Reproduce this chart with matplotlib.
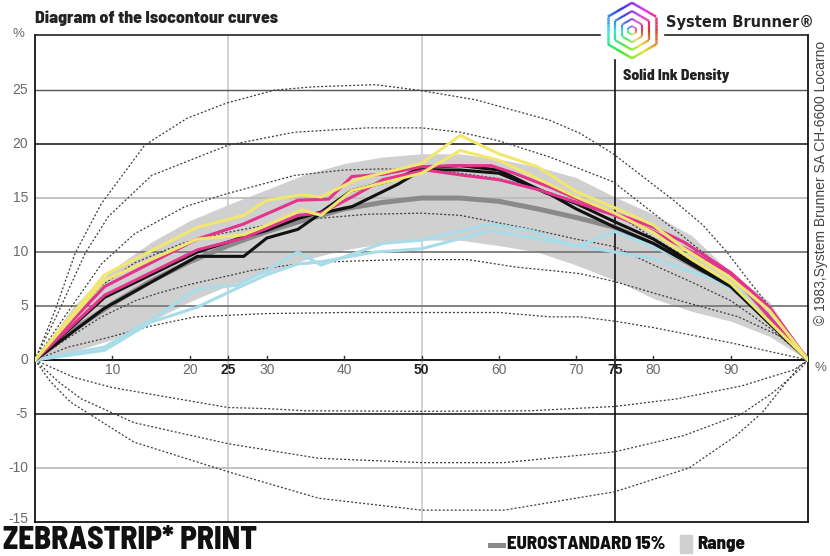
import colorsys
import numpy as np
import matplotlib
matplotlib.use("Agg")
import matplotlib.pyplot as plt
from matplotlib.collections import LineCollection
from matplotlib.patches import Rectangle

# ---- values ----
tone = [0, 5, 10, 15, 20, 25, 30, 35, 40, 45, 50, 55, 60, 65, 70, 75, 80, 85, 90, 95, 100]
euro_15 = [0, 2.8, 5.2, 7.3, 9.1, 10.6, 11.9, 13.0, 14.0, 14.6, 15.0, 15.0, 14.7, 14.0, 13.2, 12.3, 10.7, 8.8, 6.8, 4.1, 0]
range_low = [0, 0.8, 1.9, 3.6, 5.4, 6.9, 8.1, 9.3, 10.2, 10.8, 11.1, 11.1, 10.6, 10.0, 8.8, 7.4, 5.7, 4.5, 3.6, 2.2, 0]
range_high = [0, 5.0, 8.4, 10.9, 12.9, 14.4, 15.8, 17.2, 18.2, 18.8, 19.1, 19.1, 18.6, 17.9, 16.9, 15.1, 13.5, 11.5, 8.1, 5.4, 0]

# isocontour curves (dotted)
iso_a_x = [0, 2.6, 5.2, 8.6, 14.2, 19.7, 24.8, 31, 36, 44, 49.5, 57, 66.6, 70.5, 74.8, 82.6, 86.4, 89.5, 92.5, 95, 97, 100]
iso_a_y = [0, 4.6, 9.9, 14.5, 19.9, 22.4, 23.8, 25.0, 25.3, 25.5, 25.0, 24.1, 22.2, 21.0, 19.1, 14.8, 12.5, 10.0, 7.2, 5.0, 3.0, 0]
iso_b_x = [0, 3, 6.5, 9.5, 15.1, 25, 33.6, 43, 50, 55, 60, 66.6, 70.5, 74.8, 83.4, 90.8, 96.4, 100]
iso_b_y = [0, 4.4, 9.9, 13.3, 17.1, 19.9, 21.1, 21.5, 21.5, 21.1, 20.3, 18.8, 17.7, 16.5, 11.7, 7.4, 3.4, 0]
iso_c_x = [0, 4.3, 8.6, 12.9, 19.4, 24.8, 33.6, 40, 45, 50, 55, 60, 65, 70, 75, 80, 85, 90, 95, 100]
iso_c_y = [0, 4.5, 8.9, 11.7, 14.2, 15.4, 17.1, 17.6, 17.7, 17.6, 17.3, 16.8, 15.9, 14.7, 13.6, 11.3, 9.2, 7.0, 3.8, 0]
iso_d_x = [0, 4.3, 8.6, 12.9, 19, 24, 30, 36.4, 43, 50, 55, 60, 65, 70, 75, 80, 85, 90, 95, 100]
iso_d_y = [0, 3.5, 6.9, 9.0, 10.8, 11.7, 12.5, 13.1, 13.5, 13.6, 13.4, 12.7, 12.0, 11.2, 10.5, 8.8, 7.2, 5.5, 3.0, 0]
iso_e_x = [0, 4, 8.6, 13, 16, 20, 25, 28, 33, 38.6, 47, 56, 62.3, 66.6, 70.5, 74.8, 83.4, 91, 96.4, 100]
iso_e_y = [0, 1.9, 4.0, 5.5, 6.2, 7.0, 7.8, 8.3, 8.8, 9.1, 9.3, 9.3, 8.6, 8.3, 8.0, 7.3, 5.5, 4.0, 2.2, 0]
iso_f_x = [0, 4.3, 9, 14.7, 20.7, 29.8, 40, 50, 60, 66.6, 70.5, 75, 80, 85, 90, 95, 100]
iso_f_y = [0, 1.2, 2.0, 3.1, 4.0, 4.3, 4.4, 4.4, 4.4, 4.0, 4.0, 3.6, 3.0, 2.3, 1.6, 0.8, 0]
iso_g_x = [0, 5, 10, 25, 30, 35, 50, 64, 75, 83, 91.4, 98.2, 100]
iso_g_y = [0, -1.6, -2.55, -4.4, -4.5, -4.7, -4.75, -4.7, -4.3, -3.6, -2.4, -0.9, 0]
iso_h_x = [0, 3, 6, 12.8, 25, 36.7, 50, 60.7, 75, 83.9, 91.4, 95.5, 98.9, 100]
iso_h_y = [0, -2.0, -3.6, -5.8, -7.75, -9.1, -9.5, -9.5, -8.5, -7.0, -5.0, -3.0, -0.9, 0]
iso_i_x = [0, 2, 4.6, 12.8, 25, 36.7, 50, 60.7, 75, 84.6, 90.7, 94.1, 96.8, 98.9, 100]
iso_i_y = [0, -2.0, -3.9, -7.6, -10.35, -12.8, -13.9, -13.9, -12.2, -10.0, -7.0, -4.85, -2.4, -0.6, 0]

# measured print (two runs per colour)
yellow_a_x = [0, 9, 21, 27, 30, 34.5, 37, 41.5, 50, 55, 60, 65, 70, 75, 80, 84, 90, 95, 100]
yellow_a_y = [0, 7.9, 12.3, 13.4, 14.8, 15.3, 15.1, 16.7, 18.2, 20.8, 19.1, 17.9, 15.6, 14.1, 12.5, 10.3, 7.6, 4.6, 0]
yellow_b_x = [0, 9, 21, 27, 30, 34.5, 37, 41, 50, 55, 60, 70, 75, 80, 85, 90, 100]
yellow_b_y = [0, 7.4, 11.2, 11.6, 12.5, 13.9, 13.4, 15.7, 17.3, 19.4, 18.5, 15.1, 13.6, 11.8, 9.3, 7.1, 0]
magenta_a_x = [0, 9, 21, 27, 34, 38, 41, 45, 50, 54, 59, 62, 67, 70.5, 75, 80, 84, 90, 95, 100]
magenta_a_y = [0, 6.8, 11.2, 12.6, 14.8, 14.9, 17.0, 17.2, 17.9, 18.0, 18.0, 17.3, 15.9, 14.8, 13.6, 12.3, 10.9, 8.1, 4.9, 0]
magenta_b_x = [0, 9, 21, 27, 34, 37, 41, 45, 50.5, 55.5, 60, 65, 70, 75, 80, 85, 90, 100]
magenta_b_y = [0, 6.0, 10.2, 11.3, 13.4, 13.6, 15.1, 16.7, 17.6, 17.1, 16.7, 15.8, 14.6, 13.4, 11.9, 10.0, 8.0, 0]
black_a_x = [0, 9, 21, 27, 30, 34, 37, 41, 46, 50, 55, 60, 66, 70, 75, 80, 85, 90, 100]
black_a_y = [0, 5.8, 10.0, 11.4, 12.0, 13.1, 13.7, 15.7, 16.6, 17.8, 18.0, 17.6, 15.5, 14.5, 12.8, 11.2, 9.0, 7.0, 0]
black_b_x = [0, 9, 21, 27, 30, 34, 37, 41, 47, 50, 55, 60, 66.5, 70, 75, 80, 85, 90, 100]
black_b_y = [0, 4.8, 9.6, 9.6, 11.3, 12.1, 13.6, 14.2, 16.3, 17.6, 17.6, 17.3, 15.4, 14.0, 12.3, 10.8, 8.8, 6.8, 0]
cyan_a_x = [0, 9, 15, 21, 26, 30, 34, 37, 45, 50, 59, 64, 70, 75, 80, 86, 90, 95, 100]
cyan_a_y = [0, 1.2, 3.7, 6.6, 6.9, 8.3, 10.0, 8.8, 10.8, 11.1, 12.6, 12.0, 10.5, 11.9, 10.5, 8.5, 7.0, 4.5, 0]
cyan_b_x = [0, 9, 15, 21, 26, 30, 34, 37, 44, 50, 59, 66, 75, 80, 87, 92, 96, 100]
cyan_b_y = [0, 0.9, 3.5, 4.9, 6.6, 7.9, 8.9, 9.1, 10.0, 10.3, 12.0, 11.1, 10.0, 9.4, 7.7, 5.9, 3.4, 0]

y_ticks = [25, 20, 15, 10, 5, 0, -5, -10, -15]
x_ticks = [10, 20, 25, 30, 40, 50, 60, 70, 75, 80, 90]

COND = ['Barlow Semi Condensed', 'DejaVu Sans']
LIGHT = ['Liberation Sans', 'DejaVu Sans']

W, H = 830, 556
fig = plt.figure(figsize=(W / 100, H / 100), dpi=100)
ax = fig.add_axes([35 / W, 34 / H, 773 / W, 487 / H])
ax.set_xlim(0, 100)
ax.set_ylim(-15, 30.1)
ax.set_xticks([])
ax.set_yticks([])
for s in ['left', 'right', 'bottom']:
    ax.spines[s].set_linewidth(1.2)
ax.spines['top'].set_visible(False)
# top border, broken by the logo
ax.plot([0, 73.1], [30.1, 30.1], color='#222', lw=1.2, clip_on=False, zorder=5)
ax.plot([81.5, 100], [30.1, 30.1], color='#222', lw=1.2, clip_on=False, zorder=5)

# light verticals under the range band
ax.plot([25, 25], [-15, 30.1], color='#cfcfcf', lw=1.3, zorder=0.5)
ax.plot([50, 50], [-15, 30.1], color='#cfcfcf', lw=1.3, zorder=0.5)

ax.fill_between(tone, range_low, range_high, color='#d0d0d0', lw=0, zorder=1)

hl = {25: ('#555555', 1.0), 20: ('#111111', 1.1), 15: ('#bdbdbd', 1.3), 10: ('#7a7a7a', 1.3),
      5: ('#7a7a7a', 1.3), 0: ('#111111', 1.4), -5: ('#111111', 1.1), -10: ('#bdbdbd', 1.3)}
for yv, (c, w) in hl.items():
    ax.axhline(yv, color=c, lw=w, zorder=1.5)
ax.plot([75, 75], [-15, 27.8], color='#111111', lw=1.2, zorder=1.5)
for t in x_ticks:
    ax.plot([t, t], [0, 0.35], color='#333', lw=1.0, zorder=1.6)

iso = [(iso_a_x, iso_a_y), (iso_b_x, iso_b_y), (iso_c_x, iso_c_y), (iso_d_x, iso_d_y),
       (iso_e_x, iso_e_y), (iso_f_x, iso_f_y), (iso_g_x, iso_g_y), (iso_h_x, iso_h_y),
       (iso_i_x, iso_i_y)]
for xs, ys in iso:
    ax.plot(xs, ys, color='#3c3c3c', lw=0.9, ls=(0, (1.6, 1.6)), zorder=2)

ax.plot(tone, euro_15, color='#8a8a8a', lw=3.6, zorder=3, solid_capstyle='butt')

series = [(cyan_a_x, cyan_a_y, '#a8dce9'), (cyan_b_x, cyan_b_y, '#a8dce9'),
          (black_a_x, black_a_y, '#111111'), (black_b_x, black_b_y, '#111111'),
          (magenta_a_x, magenta_a_y, '#e2348c'), (magenta_b_x, magenta_b_y, '#e2348c'),
          (yellow_a_x, yellow_a_y, '#f1e76e'), (yellow_b_x, yellow_b_y, '#f1e76e')]
for xs, ys, c in series:
    ax.plot(xs, ys, color=c, lw=2.2, zorder=4, solid_joinstyle='miter')

# axis labels
for t in y_ticks:
    ax.text(-0.9, t + (0.3 if t == -15 else 0), str(t), ha='right', va='center', fontsize=10,
            color='#6a6a6a', family=LIGHT, clip_on=False)
ax.text(-2.2, 30.2, '%', ha='center', va='center', fontsize=9.5, color='#6a6a6a',
        family=LIGHT, clip_on=False)
for t in x_ticks:
    bold = t in (25, 50, 75)
    ax.text(t, -0.95, str(t), ha='center', va='center', fontsize=10,
            color='#222' if bold else '#6a6a6a', family=LIGHT,
            fontweight='bold' if bold else 'normal')
ax.text(100.9, -0.75, '%', ha='left', va='center', fontsize=9.5, color='#6a6a6a',
        family=LIGHT, clip_on=False)
ax.text(76.1, 26.3, 'Solid Ink Density', ha='left', va='center', fontsize=11.3,
        fontweight=800, color='#222', family=COND)

# header / footer text
fig.text(35 / W, 1 - 18 / H, 'Diagram of the Isocontour curves', ha='left', va='center',
         fontsize=12.8, fontweight=800, color='#222', family=COND)
fig.text(666 / W, 1 - 22 / H, 'System Brunner®', ha='left', va='center', fontsize=10.5,
         fontweight='bold', color='#222', family=['DejaVu Sans'])
fig.text(821 / W, 1 - 183 / H, '© 1983,System Brunner SA CH-6600 Locarno', ha='center',
         va='center', rotation=90, fontsize=10, color='#444', family=LIGHT)
fig.text(3 / W, 1 - 549 / H, 'ZEBRASTRIP* PRINT', ha='left', va='baseline', fontsize=22.5,
         fontweight=800, color='#111', family=COND)
fig.text(507 / W, 1 - 544 / H, 'EUROSTANDARD 15%', ha='left', va='center', fontsize=13.5,
         fontweight=800, color='#111', family=COND)
fig.text(697 / W, 1 - 544 / H, 'Range', ha='left', va='center', fontsize=13.5,
         fontweight=800, color='#111', family=COND)
fig.add_artist(plt.Line2D([490 / W, 503 / W], [1 - 545 / H, 1 - 545 / H], color='#8a8a8a', lw=3.6))
fig.add_artist(Rectangle((680 / W, 1 - 553 / H), 12 / W, 18 / H, color='#cfcfcf'))

# logo: concentric rainbow hexagons
lax = fig.add_axes([600 / W, 1 - 61 / H, 64 / W, 61 / H])
lax.set_xlim(-1.1, 1.1)
lax.set_ylim(-1.1, 1.1)
lax.set_aspect('equal')
lax.axis('off')
ang = np.radians(np.arange(90, 451, 60))
for r, w in [(1.0, 1.8), (0.7, 1.6), (0.42, 1.4), (0.16, 1.1)]:
    vx, vy = r * np.cos(ang), r * np.sin(ang)
    segs, cols = [], []
    for k in range(6):
        for f in np.linspace(0, 1, 12, endpoint=False):
            p0 = (vx[k] + (vx[k + 1] - vx[k]) * f, vy[k] + (vy[k + 1] - vy[k]) * f)
            p1 = (vx[k] + (vx[k + 1] - vx[k]) * (f + 1 / 12), vy[k] + (vy[k + 1] - vy[k]) * (f + 1 / 12))
            th = np.degrees(np.arctan2((p0[1] + p1[1]) / 2, (p0[0] + p1[0]) / 2)) % 360
            cols.append(colorsys.hsv_to_rgb(((360 - th) % 360) / 360, 0.8, 0.9))
            segs.append([p0, p1])
    lax.add_collection(LineCollection(segs, colors=cols, linewidths=w))

fig.savefig('out.png', dpi=100)
